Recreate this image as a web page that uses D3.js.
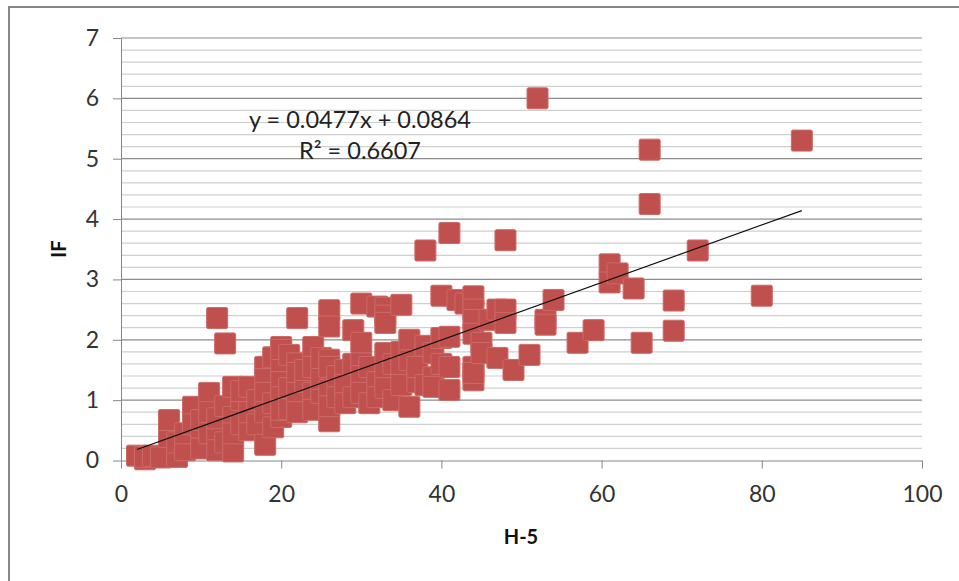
<!DOCTYPE html>
<html lang="en">
<head>
  <meta charset="UTF-8">
  <title>IF vs H-5</title>
  <script src="https://cdn.jsdelivr.net/npm/d3@7"></script>
  <style>
    body { margin: 0; background: #fff; }
    svg text { font-family: Lato, "Open Sans", sans-serif; }
    .tick text { font-size: 23px; fill: #333; }
    .axis path, .axis line { stroke: #868686; }
    .title { font-size: 20px; font-weight: bold; fill: #111; text-anchor: middle; }
    .eq { font-size: 23.5px; fill: #222; text-anchor: middle; }
  </style>
</head>
<body>
  <svg width="959" height="581"></svg>
  <script>
    // h-5 index (x) and impact factor (y)
    var h5 = [
      2, 3, 3, 4, 5, 6, 6, 7, 7, 8, 8, 9, 9, 10, 10, 10,
      11, 11, 11, 12, 12, 12, 12, 13, 13, 13, 14, 14, 14, 14, 15, 15, 15,
      16, 16, 16, 17, 17, 18, 18, 18, 18, 18, 19, 19, 19,
      20, 20, 20, 20, 20, 20, 20, 21, 21, 21, 22, 22, 22, 22, 22, 23, 23,
      24, 24, 24, 24, 25, 25, 25, 26, 26, 26, 26, 26, 26, 26, 27, 27,
      28, 28, 28, 29, 29, 29, 30, 30, 30, 30, 30, 31, 31, 32, 32, 32,
      33, 33, 33, 33, 33, 33, 34, 34, 35, 35, 35, 35, 36, 36, 36, 37, 37,
      38, 38, 38, 39, 39, 39, 40, 40, 40, 41, 41, 41, 41, 42, 43,
      44, 44, 44, 44, 44, 44, 44, 45, 45, 46, 47, 47, 48, 48, 48, 49,
      51, 52, 53, 53, 54, 57, 59, 61, 61, 62, 64, 65, 66, 66, 69, 69, 72, 80, 85
    ];
    var ifValues = [
      0.08, 0.02, 0.06, 0.08, 0.05, 0.39, 0.67, 0.06, 0.3, 0.17, 0.45, 0.89, 0.6, 0.34, 0.67, 0.2,
      1.12, 0.8, 0.45, 2.36, 0.5, 0.17, 0.7, 1.94, 0.9, 0.3, 1.22, 0.15, 0.72, 0.45, 1.0, 1.15, 0.6,
      1.22, 0.5, 0.8, 1.0, 0.6, 1.55, 1.35, 1.12, 0.26, 0.8, 1.71, 0.95, 0.55,
      1.88, 1.83, 1.5, 1.3, 1.05, 0.72, 0.84, 1.75, 1.2, 0.85, 2.36, 1.61, 1.45, 1.12, 0.8, 1.3, 1.5,
      1.88, 1.55, 1.12, 0.84, 1.7, 1.12, 1.35, 2.49, 2.22, 1.67, 1.55, 1.17, 0.65, 0.9, 1.4, 1.05,
      1.5, 1.25, 0.95, 2.16, 1.6, 1.05, 2.6, 1.95, 1.61, 1.4, 1.12, 1.55, 0.95, 1.3, 2.55, 1.05,
      2.53, 2.4, 2.28, 1.78, 1.45, 1.2, 1.0, 1.6, 2.58, 1.8, 1.55, 1.25, 2.0, 1.66, 0.89, 1.3, 1.55,
      3.48, 1.9, 1.25, 1.78, 1.38, 1.22, 2.73, 2.03, 1.6, 3.77, 2.05, 1.55, 1.17, 2.66, 2.6,
      2.72, 2.5, 2.33, 2.1, 1.55, 1.33, 1.45, 1.95, 1.78, 2.33, 1.7, 2.5, 3.65, 2.5, 2.28, 1.5,
      1.75, 6.0, 2.33, 2.25, 2.66, 1.95, 2.16, 3.25, 2.95, 3.1, 2.85, 1.95, 5.15, 4.25, 2.65, 2.15, 3.48, 2.73, 5.3
    ];
    var xTicks = [0, 20, 40, 60, 80, 100];
    var yTicks = [0, 1, 2, 3, 4, 5, 6, 7];
    var slope = 0.0477, intercept = 0.0864;
    var trendRange = [2, 85];
    var equationText = 'y = 0.0477x + 0.0864';
    var r2Text = 'R² = 0.6607';

    var svg = d3.select('svg');

    // outer chart frame
    svg.append('rect')
      .attr('x', 9).attr('y', 7)
      .attr('width', 980).attr('height', 620)
      .attr('fill', 'none')
      .attr('stroke', '#878787')
      .attr('stroke-width', 2);

    var x = d3.scaleLinear().domain([0, 100]).range([121, 922]);
    var y = d3.scaleLinear().domain([0, 7]).range([460.5, 38]);

    // minor + major gridlines
    var minor = d3.range(0, 35).map(function(i) { return i * 0.2; });
    svg.append('g')
      .selectAll('line')
      .data(minor.filter(function(v, i) { return i % 5 !== 0; }))
      .enter().append('line')
      .attr('x1', x(0)).attr('x2', x(100))
      .attr('y1', function(d) { return y(d); })
      .attr('y2', function(d) { return y(d); })
      .attr('stroke', '#cfcfcf')
      .attr('stroke-width', 1.2);
    svg.append('g')
      .selectAll('line')
      .data(yTicks.slice(1))
      .enter().append('line')
      .attr('x1', x(0)).attr('x2', x(100))
      .attr('y1', function(d) { return y(d); })
      .attr('y2', function(d) { return y(d); })
      .attr('stroke', '#8c8c8c')
      .attr('stroke-width', 1.2);

    svg.append('g')
      .attr('class', 'axis')
      .attr('transform', 'translate(' + x(0) + ',0)')
      .call(d3.axisLeft(y).tickValues(yTicks).tickFormat(d3.format('d'))
        .tickSize(8).tickSizeOuter(0).tickPadding(14))
      .attr('font-size', null).attr('font-family', null);

    svg.append('g')
      .attr('class', 'axis')
      .attr('transform', 'translate(0,' + y(0) + ')')
      .call(d3.axisBottom(x).tickValues(xTicks).tickFormat(d3.format('d'))
        .tickSize(8).tickSizeOuter(0).tickPadding(17))
      .attr('font-size', null).attr('font-family', null);

    // points
    var points = h5.map(function(v, i) { return {x: v, y: ifValues[i]}; });
    var size = 21;
    svg.append('g')
      .selectAll('rect')
      .data(points)
      .enter().append('rect')
      .attr('x', function(d) { return x(d.x) - size / 2; })
      .attr('y', function(d) { return y(d.y) - size / 2; })
      .attr('width', size).attr('height', size)
      .attr('rx', 1.5)
      .attr('fill', '#c0504d')
      .attr('stroke', '#cc6a67')
      .attr('stroke-width', 1);

    // linear trendline
    svg.append('line')
      .attr('x1', x(trendRange[0])).attr('y1', y(slope * trendRange[0] + intercept))
      .attr('x2', x(trendRange[1])).attr('y2', y(slope * trendRange[1] + intercept))
      .attr('stroke', '#111')
      .attr('stroke-width', 1.2);

    svg.append('text').attr('class', 'eq')
      .attr('x', 360).attr('y', 128).text(equationText);
    svg.append('text').attr('class', 'eq')
      .attr('x', 360).attr('y', 159).text(r2Text);

    svg.append('text').attr('class', 'title')
      .attr('x', 521).attr('y', 544).text('H-5');
    svg.append('text').attr('class', 'title')
      .attr('transform', 'translate(66,249) rotate(-90)').text('IF');
  </script>
</body>
</html>
